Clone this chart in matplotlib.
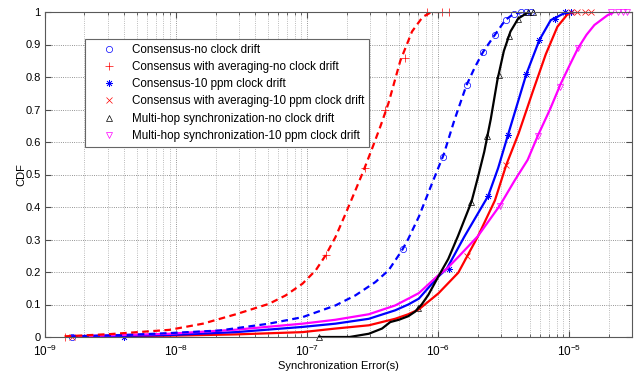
import numpy as np
import matplotlib
matplotlib.use('Agg')
import matplotlib.pyplot as plt
from matplotlib.ticker import NullFormatter

plt.rcParams['font.family'] = ['Liberation Sans', 'DejaVu Sans']
plt.rcParams['font.size'] = 8

# --- curvas CDF (x en segundos) ---
avg_nodrift_x = [1.41e-9, 3.16e-9, 8.9e-9, 1.6e-8, 2.86e-8, 5.1e-8, 6.85e-8, 9.2e-8, 1.16e-7, 1.38e-7,
                 1.64e-7, 1.96e-7, 2.33e-7, 2.69e-7, 3.16e-7, 3.63e-7, 4.17e-7, 5.13e-7, 6.3e-7,
                 7.6e-7, 8.9e-7, 1.21e-6]
avg_nodrift_y = [0.002, 0.009, 0.022, 0.041, 0.070, 0.102, 0.128, 0.164, 0.205, 0.251,
                 0.307, 0.379, 0.451, 0.512, 0.585, 0.65, 0.72, 0.85, 0.94,
                 0.985, 1.0, 1.0]

cons_nodrift_x = [1.58e-9, 4.0e-9, 8.9e-9, 2.14e-8, 5.1e-8, 9.2e-8, 1.64e-7, 2.33e-7, 3.31e-7, 4.17e-7,
                  5.27e-7, 5.9e-7, 7.1e-7, 8.9e-7, 1.1e-6, 1.32e-6, 1.64e-6, 1.9e-6, 2.2e-6, 2.7e-6,
                  3.24e-6, 3.8e-6, 4.5e-6, 5.1e-6]
cons_nodrift_y = [0.002, 0.006, 0.012, 0.020, 0.041, 0.061, 0.097, 0.128, 0.169, 0.205,
                  0.266, 0.302, 0.37, 0.47, 0.562, 0.665, 0.775, 0.83, 0.878, 0.93,
                  0.975, 0.996, 1.0, 1.0]

cons_drift_x = [1.58e-9, 8.9e-9, 2.86e-8, 9.2e-8, 1.64e-7, 2.95e-7, 4.68e-7, 5.9e-7, 7.1e-7, 1.0e-6,
                1.16e-6, 1.58e-6, 2.4e-6, 2.86e-6, 3.4e-6, 4.7e-6, 5.9e-6, 7.2e-6, 9.1e-6, 1.07e-5]
cons_drift_y = [0.001, 0.006, 0.015, 0.031, 0.041, 0.056, 0.082, 0.100, 0.118, 0.186,
                0.21, 0.309, 0.434, 0.52, 0.622, 0.81, 0.914, 0.975, 0.996, 1.0]

avg_drift_x = [1.58e-9, 8.9e-9, 2.86e-8, 9.2e-8, 1.64e-7, 2.95e-7, 4.68e-7, 5.9e-7, 7.1e-7, 1.0e-6,
               1.42e-6, 2.0e-6, 2.7e-6, 3.3e-6, 4.1e-6, 5.25e-6, 6.6e-6, 8.1e-6, 9.8e-6, 1.12e-5, 1.45e-5]
avg_drift_y = [0.001, 0.004, 0.008, 0.015, 0.026, 0.036, 0.056, 0.070, 0.085, 0.134,
               0.198, 0.309, 0.42, 0.53, 0.627, 0.755, 0.87, 0.955, 0.996, 1.0, 1.0]

mh_nodrift_x = [1.23e-7, 2.1e-7, 2.95e-7, 3.72e-7, 4.3e-7, 5.0e-7, 5.9e-7, 6.65e-7, 7.46e-7, 8.4e-7,
                1.0e-6, 1.19e-6, 1.41e-6, 1.79e-6, 2.0e-6, 2.24e-6, 2.51e-6, 2.82e-6, 3.16e-6,
                3.55e-6, 4.07e-6, 4.8e-6, 5.25e-6]
mh_nodrift_y = [0.0, 0.0, 0.01, 0.026, 0.046, 0.053, 0.064, 0.078, 0.10, 0.13,
                0.186, 0.24, 0.31, 0.416, 0.49, 0.57, 0.67, 0.79, 0.88,
                0.94, 0.98, 0.998, 1.0]

mh_drift_x = [1.58e-9, 8.9e-9, 2.86e-8, 9.2e-8, 1.64e-7, 2.95e-7, 4.68e-7, 5.9e-7, 7.1e-7, 1.0e-6,
              1.16e-6, 1.41e-6, 2.0e-6, 2.95e-6, 3.8e-6, 4.8e-6, 5.75e-6, 7.1e-6, 8.6e-6, 1.0e-5,
              1.16e-5, 1.35e-5, 1.55e-5, 1.95e-5, 2.19e-5, 2.9e-5]
mh_drift_y = [0.002, 0.010, 0.0225, 0.041, 0.053, 0.070, 0.097, 0.118, 0.135, 0.19,
              0.21, 0.245, 0.31, 0.405, 0.48, 0.545, 0.62, 0.70, 0.78, 0.835,
              0.888, 0.93, 0.96, 0.99, 1.0, 1.0]

# --- marcadores (muestras sueltas sobre cada curva) ---
avg_nodrift_mx = [1.41e-9, 1.38e-7, 2.77e-7, 3.94e-7, 5.58e-7, 8.15e-7, 1.06e-6, 1.21e-6]
avg_nodrift_my = [0.0, 0.251, 0.52, 0.70, 0.857, 1.0, 1.0, 1.0]
cons_nodrift_mx = [1.6e-9, 5.4e-7, 1.09e-6, 1.64e-6, 2.2e-6, 2.7e-6, 3.3e-6, 3.8e-6, 4.27e-6, 4.68e-6, 5.07e-6]
cons_nodrift_my = [0.0, 0.27, 0.555, 0.775, 0.878, 0.93, 0.975, 0.994, 1.0, 1.0, 1.0]
cons_drift_mx = [3.98e-9, 1.21e-6, 2.4e-6, 3.4e-6, 4.68e-6, 5.9e-6, 7.7e-6, 9.3e-6, 1.02e-5]
cons_drift_my = [0.0, 0.21, 0.434, 0.622, 0.81, 0.914, 0.98, 1.0, 1.0]
avg_drift_mx = [1.6e-9, 1.64e-6, 3.3e-6, 1.02e-5, 1.15e-5, 1.32e-5, 1.45e-5]
avg_drift_my = [0.0, 0.25, 0.53, 1.0, 1.0, 1.0, 1.0]
mh_nodrift_mx = [1.23e-7, 6.97e-7, 1.79e-6, 2.37e-6, 2.89e-6, 3.44e-6, 4.06e-6, 4.82e-6, 5.25e-6]
mh_nodrift_my = [0.0, 0.088, 0.416, 0.618, 0.806, 0.925, 0.98, 1.0, 1.0]
mh_drift_mx = [2.94e-6, 5.75e-6, 8.4e-6, 1.16e-5, 2.06e-5, 2.33e-5, 2.54e-5, 2.77e-5]
mh_drift_my = [0.403, 0.62, 0.77, 0.888, 1.0, 1.0, 1.0, 1.0]

x_ticks = [1e-9, 1e-8, 1e-7, 1e-6, 1e-5]
y_ticks = [0, 0.1, 0.2, 0.3, 0.4, 0.5, 0.6, 0.7, 0.8, 0.9, 1]
y_ticklabels = ['0', '0.1', '0.2', '0.3', '0.4', '0.5', '0.6', '0.7', '0.8', '0.9', '1']

etiquetas = ['Consensus-no clock drift',
             'Consensus with averaging-no clock drift',
             'Consensus-10 ppm clock drift',
             'Consensus with averaging-10 ppm clock drift',
             'Multi-hop synchronization-no clock drift',
             'Multi-hop synchronization-10 ppm clock drift']

azul = '#0000ff'
rojo = '#ff0000'
magenta = '#ff00ff'

fig = plt.figure(figsize=(6.41, 3.71), dpi=100)
ax = fig.add_axes([45 / 641, 34 / 371, 587 / 641, 325 / 371])

ms = 4.5
mew = 0.5
asterisco = (8, 2, 0)
# marcadores primero (son los que aparecen en la leyenda)
h1, = ax.plot(cons_nodrift_mx, cons_nodrift_my, 'o', color=azul, mfc='none', ms=ms, mew=mew, clip_on=False)
h2, = ax.plot(avg_nodrift_mx, avg_nodrift_my, '+', color=rojo, ms=ms + 1, mew=mew, clip_on=False)
h3, = ax.plot(cons_drift_mx, cons_drift_my, marker=asterisco, ls='none', color=azul, ms=ms + 0.5, mew=mew, clip_on=False)
h4, = ax.plot(avg_drift_mx, avg_drift_my, 'x', color=rojo, ms=ms, mew=mew, clip_on=False)
h5, = ax.plot(mh_nodrift_mx, mh_nodrift_my, '^', color='k', mfc='none', ms=ms, mew=mew, clip_on=False)
h6, = ax.plot(mh_drift_mx, mh_drift_my, 'v', color=magenta, mfc='none', ms=ms, mew=mew, clip_on=False)

lw = 1.6
ax.plot(avg_drift_x, avg_drift_y, '-', color=rojo, lw=lw)
ax.plot(cons_drift_x, cons_drift_y, '-', color=azul, lw=lw)
ax.plot(mh_drift_x, mh_drift_y, '-', color=magenta, lw=lw)
ax.plot(mh_nodrift_x, mh_nodrift_y, '-', color='k', lw=lw)
ax.plot(cons_nodrift_x, cons_nodrift_y, '--', color=azul, lw=lw, dashes=(3, 2))
ax.plot(avg_nodrift_x, avg_nodrift_y, '--', color=rojo, lw=lw, dashes=(3, 2))

ax.set_xscale('log')
ax.set_xlim(1e-9, 3e-5)
ax.set_ylim(0, 1)
ax.set_xticks(x_ticks)
ax.set_yticks(y_ticks)
ax.set_yticklabels(y_ticklabels)
ax.xaxis.set_minor_formatter(NullFormatter())
ax.grid(True, which='major', ls=':', color='0.45', lw=0.6)
ax.grid(True, which='minor', axis='x', ls=':', color='0.65', lw=0.6)
ax.tick_params(which='both', direction='in', top=True, right=True, color='0.3')
ax.tick_params(axis='y', pad=3)
ax.tick_params(axis='x', pad=5, labelsize=8.5)
ax.tick_params(which='major', length=4)
ax.tick_params(which='minor', length=2)
for s in ax.spines.values():
    s.set_color('0.35')
    s.set_linewidth(0.8)

ax.set_xlabel('Synchronization Error(s)', labelpad=1)
ax.set_ylabel('CDF')
ax.yaxis.set_label_coords(-19 / 587, 0.5)

leg = ax.legend([h1, h2, h3, h4, h5, h6], etiquetas, loc='upper left',
                bbox_to_anchor=(85 / 641, 1 - 39 / 371), bbox_transform=fig.transFigure,
                fancybox=False, framealpha=1, edgecolor='0.4', fontsize=8.4,
                handlelength=3.3, handletextpad=0.3, labelspacing=0.45, borderpad=0.4,
                borderaxespad=0)
leg.get_frame().set_linewidth(0.8)

plt.savefig('out.png', dpi=100, facecolor='white')
